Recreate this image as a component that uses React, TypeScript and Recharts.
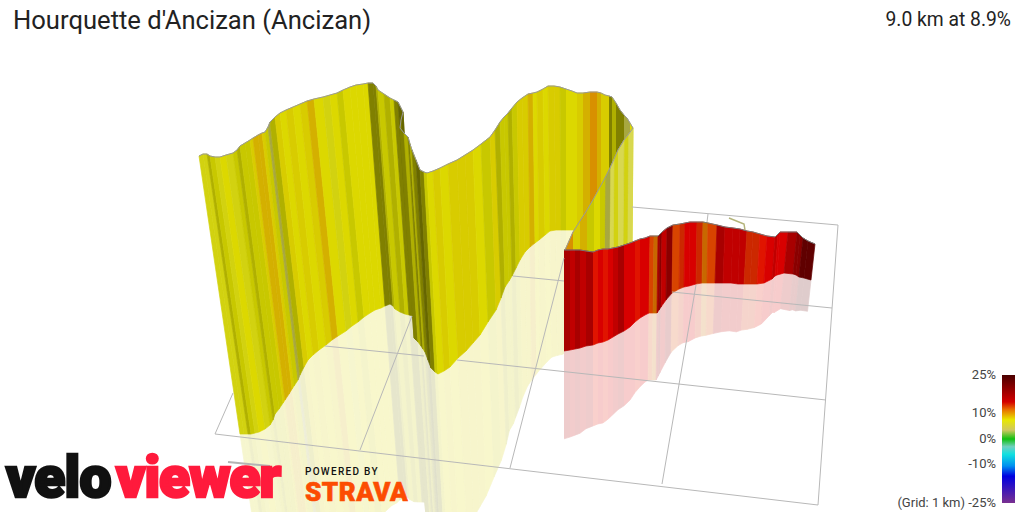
import React from "react";
import { ComposedChart, Area, Line, XAxis, YAxis } from "recharts";

type Row = [number, number, number, number];
type Pt = [number, number];

const title = "Hourquette d'Ancizan (Ancizan)";
const summary = "9.0 km at 8.9%";

// Each row: projected wall top (x, y) and wall foot (x, y).
const mainWall: Row[] = [
  [199,156,240,434],[203,154,244,434],[207,154,248,434],[210,156,251,434],[215,157,255,433],[220,157,259,432],
  [226,155,265,429],[233,153,270,425],[237,150,273,420],[240,146,275,414],[245,143,279,409],[250,140,283,403],
  [253,138,285,400],[258,135,289,394],[262,133,292,389],[265,132,294,386],[268,127,298,380],[270,122,300,375],
  [275,117,304,367],[280,113,308,360],[286,110,313,355],[293,107,319,350],[300,104,326,345],[307,101,332,340],
  [314,99,338,336],[323,97,346,331],[330,95,352,326],[337,93,358,322],[343,90,364,317],[350,87,370,313],
  [356,85,375,310],[363,84,381,308],[368,83,385,306],[373,83,390,304],[376,86,393,306],[378,90,395,309],
  [384,94,400,312],[390,98,405,314],[394,100,409,315],[398,102,413,316],[403,112,416,340],[401,120,415,339],
  [400,128,414,338],[404,133,418,342],[408,137,421,346],[410,144,423,349],[412,150,425,352],[416,160,428,360],
  [420,170,431,368],[424,172,435,372],[427,173,438,374],[433,171,444,371],[440,168,450,367],[448,164,458,358],
  [457,160,466,351],[465,155,473,343],[473,150,480,335],[481,144,488,322],[490,137,496,310],[495,130,501,298],
  [500,122,505,287],[504,117,509,281],[508,113,512,276],[512,108,516,268],[517,102,520,260],[522,98,525,252],
  [528,94,530,247],[533,93,535,243],[537,92,539,240],[543,89,545,235],[548,86,550,231],[554,86,556,230],
  [560,87,561,230],[566,89,566,230],[572,91,572,230],[577,93,577,230],[583,93,583,232],[590,92,590,234],
  [597,92,597,236],[601,93,601,237],[605,95,605,238],[609,96,609,239],[612,97,612,240],[616,103,616,242],
  [620,110,620,244],[624,115,624,246],[627,118,627,247],[630,123,630,249],[633,128,632,250],
];
const mainTones =
  "L L B A L Y L A B A A G O O G A W B G Y G Y G O Y L Y A Y Y Y Y D D B A B A D E E D D B D B D E D A Y G Y G G G Y A G B A A B A G G O Y G Y G G A Y Y G O R O G G D B D D W W".split(" ");

const backWall: Row[] = [
  [633,128,632,250],[628,135,627,257],[624,140,623,263],[618,150,618,272],[614,159,613,280],[610,168,609,287],
  [605,178,604,295],[600,187,600,302],[594,198,594,313],[587,210,587,322],[580,221,580,332],[573,232,573,342],
  [569,241,569,346],[565,250,565,350],
];
const backTones = "P L P L P W A Y A O G R R".split(" ");

const redWall: Row[] = [
  [564,250,564,351],[570,250,570,350],[575,250,575,349],[580,250,580,348],[586,251,586,346],[593,252,593,345],
  [598,250,598,343],[603,249,603,342],[608,249,608,340],[613,248,613,337],[618,247,618,334],[624,245,624,331],
  [630,243,630,327],[635,241,635,322],[640,239,640,318],[645,238,645,315],[650,236,649,313],[654,236,653,313],
  [658,236,657,313],[660,234,659,310],[662,232,661,307],[667,228,666,300],[673,225,672,293],[680,224,679,289],
  [685,223,684,287],[690,222,689,286],[697,222,696,284],[703,222,702,283],[708,223,707,283],[717,225,715,283],
  [725,227,723,283],[733,228,731,283],[740,229,738,284],[747,231,744,284],[753,232,750,284],[760,234,757,284],
  [767,236,764,283],[775,237,772,279],[778,234,775,276],[780,232,777,275],[788,232,784,273],[797,232,793,274],
  [800,235,796,275],[803,238,799,277],[808,241,804,278],[815,244,811,280],
];
const redTones = "u t u t u s r s r t u r r s r r x y u v t v x z r r z y x u t t t z z s r t r r u v v w w".split(" ");

const palette: Record<string, string> = {
  Y: "#dcd800", L: "#d2d210", P: "#d8d850", G: "#d8cc00", O: "#d4b000", R: "#d89000",
  A: "#c8c800", B: "#b0b000", D: "#808000", E: "#666600", W: "#a8a840",
  r: "#d80000", s: "#e01400", t: "#c00000", u: "#a80000", v: "#8a0000", w: "#600000",
  x: "#d84400", y: "#c86800", z: "#cc2800",
};

// Only the stretches of the ground grid that the walls leave visible.
const gridLines: Pt[][] = [
  [[632,207],[838,225]],
  [[513,276],[564,281]],
  [[672,292],[832,308]],
  [[325,346],[424,356]],
  [[457,360],[826,400]],
  [[215,434],[818,505]],
  [[215,434],[233,393]],
  [[360,450],[412,316]],
  [[510,468],[564,258]],
  [[662,484],[696,285]],
  [[707,222],[708,214]],
  [[818,505],[838,225]],
];
const routeStub: Pt[] = [[729,218],[744,224],[745,230]];
const routeStubLeft: Pt[] = [[228,462],[270,466]];

const legendLabels = [
  { text: "25%", top: 367 },
  { text: "10%", top: 405 },
  { text: "0%", top: 431 },
  { text: "-10%", top: 456 },
  { text: "(Grid: 1 km) -25%", top: 495 },
];
const legendStops = [
  ["#4a0000", 0], ["#d40000", 21], ["#e87000", 27], ["#e8e800", 35], ["#d0c860", 43], ["#10c010", 50],
  ["#70d0c0", 56], ["#10e0e0", 62], ["#0090f0", 71], ["#0000e0", 79], ["#7a3090", 100],
];

const REFLECT = 0.87;

function mix(hex: string, keep: number) {
  const c = [1, 3, 5].map((i) => parseInt(hex.slice(i, i + 2), 16));
  const m = c.map((v) => Math.round(v * keep + 255 * (1 - keep)).toString(16).padStart(2, "0"));
  return "#" + m.join("");
}

// A quad as x-monotone rows, so that a range Area can fill it.
function slices(poly: Pt[]) {
  const xs = Array.from(new Set(poly.map((p) => p[0]))).sort((a, b) => a - b);
  return xs.map((x) => {
    const ys: number[] = [];
    poly.forEach((p, i) => {
      const q = poly[(i + 1) % poly.length];
      const lo = Math.min(p[0], q[0]);
      const hi = Math.max(p[0], q[0]);
      if (x < lo || x > hi) return;
      if (p[0] === q[0]) ys.push(p[1], q[1]);
      else ys.push(p[1] + ((q[1] - p[1]) * (x - p[0])) / (q[0] - p[0]));
    });
    return { x, r: [Math.min(...ys), Math.max(...ys)] };
  });
}

function strips(rows: Row[], tones: string[], mode: "wall" | "shadow", prefix: string) {
  const out: React.ReactNode[] = [];
  for (let i = 0; i < rows.length - 1; i++) {
    const [ax, ay, bx, by] = rows[i];
    const [cx, cy, dx, dy] = rows[i + 1];
    const hex = palette[tones[i]] ?? palette.Y;
    const quad: Pt[] =
      mode === "wall"
        ? [[ax, ay], [cx, cy], [dx, dy], [bx, by]]
        : [
            [bx, by],
            [dx, dy],
            [dx + (dx - cx) * REFLECT, dy + (dy - cy) * REFLECT],
            [bx + (bx - ax) * REFLECT, by + (by - ay) * REFLECT],
          ];
    const fill = mode === "wall" ? hex : mix(hex, 0.2);
    out.push(
      <Area
        key={prefix + i}
        data={slices(quad)}
        dataKey="r"
        type="linear"
        fill={fill}
        fillOpacity={1}
        stroke={fill}
        strokeWidth={0.7}
        dot={false}
        activeDot={false}
        isAnimationActive={false}
      />
    );
  }
  return out;
}

function polyline(points: Pt[], key: string, stroke: string, width: number) {
  return (
    <Line
      key={key}
      data={points.map(([x, y]) => ({ x, y }))}
      dataKey="y"
      type="linear"
      stroke={stroke}
      strokeWidth={width}
      dot={false}
      activeDot={false}
      isAnimationActive={false}
    />
  );
}

const tops = (rows: Row[]): Pt[] => rows.map((r) => [r[0], r[1]]);

const font = "Roboto, sans-serif";

const logoWord: React.CSSProperties = {
  position: "absolute",
  top: 452,
  height: 52,
  lineHeight: "52px",
  fontSize: 57,
  fontWeight: 900,
  whiteSpace: "nowrap",
};

export default function App() {
  return (
    <div style={{ position: "absolute", left: 0, top: 0, width: 1024, height: 512, overflow: "hidden", background: "#fff", fontFamily: font }}>
      <ComposedChart width={1024} height={512} margin={{ top: 0, right: 0, bottom: 0, left: 0 }}>
        <XAxis dataKey="x" type="number" domain={[0, 1024]} allowDataOverflow hide />
        <YAxis type="number" domain={[0, 512]} reversed allowDataOverflow hide />
        {strips(mainWall, mainTones, "shadow", "ms")}
        {strips(redWall, redTones, "shadow", "rs")}
        {gridLines.map((g, i) => polyline(g, "g" + i, "#b8b8b8", 1))}
        {polyline(routeStub, "stub", "#b4b47a", 1.5)}
        {strips(mainWall, mainTones, "wall", "mw")}
        {strips(backWall, backTones, "wall", "bw")}
        {polyline(tops(mainWall), "mt", "#9a9a9a", 1)}
        {polyline(tops(backWall), "bt", "#9a9a9a", 1)}
        {strips(redWall, redTones, "wall", "rw")}
        {polyline(tops(redWall), "rt", "#777777", 1)}
        {polyline(routeStubLeft, "stub2", "#b4b4b4", 2)}
      </ComposedChart>

      <div style={{ position: "absolute", left: 13, top: 5, fontSize: 25.6, lineHeight: "30px", color: "#222", whiteSpace: "nowrap" }}>{title}</div>
      <div style={{ position: "absolute", right: 13, top: 9, fontSize: 19.3, lineHeight: "22px", color: "#222", whiteSpace: "nowrap" }}>{summary}</div>

      {legendLabels.map((l) => (
        <div key={l.text} style={{ position: "absolute", right: 28, top: l.top, fontSize: 13, lineHeight: "15px", color: "#444", whiteSpace: "nowrap" }}>{l.text}</div>
      ))}
      <div
        style={{
          position: "absolute", left: 1002, top: 375, width: 13, height: 128,
          background: `linear-gradient(to bottom, ${legendStops.map(([c, p]) => `${c} ${p}%`).join(", ")})`,
        }}
      />

      <div style={{ ...logoWord, left: 6, color: "#111", letterSpacing: -0.8, WebkitTextStroke: "2.6px #111" }}>velo</div>
      <div style={{ ...logoWord, left: 116, color: "#ff1a3c", letterSpacing: -1, WebkitTextStroke: "2.6px #ff1a3c" }}>viewer</div>
      <div style={{ position: "absolute", left: 305, top: 466, fontSize: 10, lineHeight: "12px", fontWeight: 500, letterSpacing: 1.3, color: "#111", whiteSpace: "nowrap" }}>POWERED BY</div>
      <div style={{ position: "absolute", left: 305, top: 480, fontSize: 26, lineHeight: "24px", fontWeight: 900, letterSpacing: 0.5, color: "#fc4c02", WebkitTextStroke: "0.6px #fc4c02", whiteSpace: "nowrap" }}>STRAVA</div>
    </div>
  );
}
